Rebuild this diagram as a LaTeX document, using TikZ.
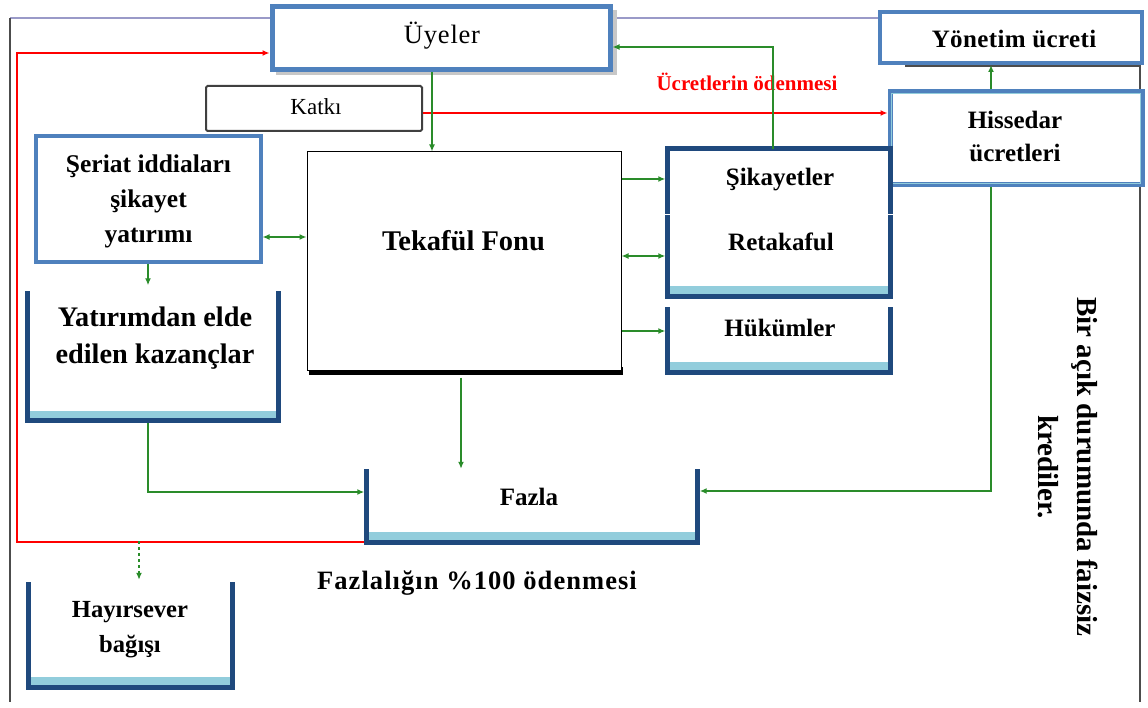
\documentclass[tikz,border=0pt]{standalone}
\usepackage{fontspec}
\setmainfont{Liberation Serif}
\newfontfamily\spA{Liberation Serif}[LetterSpace=3]
\newfontfamily\spB{Liberation Serif}[LetterSpace=4]
\newfontfamily\spC{Liberation Serif}[LetterSpace=1.5]
\usetikzlibrary{arrows.meta,calc}
\definecolor{bluebd}{HTML}{4F81BD}
\definecolor{darkbd}{HTML}{1F497D}
\definecolor{strip}{HTML}{92CDDC}
\definecolor{grn}{HTML}{2A8C2A}
\definecolor{frameblue}{HTML}{9A9AC8}
\newcommand{\fs}[2]{\fontsize{#1}{#2}\selectfont}
\newcommand{\mkU}[1]{%
  \fill[strip] ([yshift=2pt]#1.south west) rectangle ([yshift=10pt]#1.south east);
  \draw[ushp] (#1.north west) -- (#1.south west) -- (#1.south east) -- (#1.north east);}
\tikzset{
  area/.style={inner sep=0pt, minimum width=#1},
  bluebox/.style={draw=bluebd, line width=4.5pt, fill=white, inner sep=0pt},
  ushp/.style={draw=darkbd, line width=5pt, line cap=rect},
  lbl/.style={inner sep=0pt, align=center, text=black},
  garr/.style={draw=grn, line width=1.8pt, -{Latex[length=7pt,width=6pt]}},
  gdbl/.style={draw=grn, line width=1.8pt, {Latex[length=7pt,width=6pt]}-{Latex[length=7pt,width=6pt]}},
  rarr/.style={draw=red, line width=2.2pt, -{Latex[length=7pt,width=6pt]}},
}
\begin{document}
\begin{tikzpicture}[x=1pt,y=-1pt]
\useasboundingbox (0,0) rectangle (1148,708);
\fill[white] (0,0) rectangle (1148,708);
% frame
\draw[frameblue, line width=2pt] (10,18) -- (880,18);
\draw[black!70, line width=1.5pt] (10,18) -- (10,702);
\draw[black!70, line width=1.5pt] (905,66) -- (1140,66) -- (1140,702);

% helper coordinates
\coordinate (xu) at (432,0);
\coordinate (cs) at (773,47);
\coordinate (ys) at (0,179);
\coordinate (yr) at (0,256);
\coordinate (yh) at (0,331);
\coordinate (yq) at (0,237);
\coordinate (xy) at (148,0);
\coordinate (yf) at (0,492);
\coordinate (xt) at (461,0);
\coordinate (xh) at (991,0);
\coordinate (yg) at (0,491);
\coordinate (rl) at (17,53);
\coordinate (yk) at (0,113);
\coordinate (dd) at (139,541);

% boxes
\fill[black!22] (276,10) rectangle (617,75);
\node[bluebox, line width=5pt, minimum width=338pt, minimum height=63pt] (uye) at (441,38) {};
\node[lbl, anchor=base, font=\spA\fs{26.5}{26.5}] (uyet) at (442,44) {Üyeler};

\node[bluebox, line width=4pt, minimum width=262pt, minimum height=51pt] (yon) at (1011,37.5) {};
\node[lbl, anchor=base, font=\spC\bfseries\fs{25}{25}] (yont) at (1014,48) {Yönetim ücreti};

\node[bluebox, line width=5pt, minimum width=252pt, minimum height=93pt] (his) at (1016,138.5) {};
\draw[strip, line width=1.5pt] ($(his.north west)+(4,4)$) rectangle ($(his.south east)+(-4,-4)$);
\node[lbl, font=\bfseries\fs{25}{33}] (hist) at (1015,136) {Hissedar\\ücretleri};

\node[draw=black!75, line width=2pt, rounded corners=1.5pt, fill=white, minimum width=216pt, minimum height=45pt, inner sep=0pt] (kat) at (314,108.5) {};
\node[lbl, anchor=base, font=\fs{23}{23}] (katt) at (316,115) {Katkı};

\node[bluebox, line width=4pt, minimum width=225pt, minimum height=126pt] (ser) at (148,199) {};
\node[lbl, font=\bfseries\fs{25.5}{35}] (sert) at (148.5,201) {Şeriat iddiaları\\şikayet\\yatırımı};

\fill[black] (309,367) rectangle (623,375);
\node[draw=black, line width=1pt, fill=white, minimum width=314pt, minimum height=218pt, inner sep=0pt] (tek) at (464,261) {};
\node[lbl, anchor=base, font=\bfseries\fs{28.5}{28.5}] (tekt) at (463.5,251) {Tekafül Fonu};

% Sikayetler (open bottom)
\node[area=222pt, minimum height=62pt] (sik) at (779,180) {};
\draw[ushp] (sik.south west) -- (sik.north west) -- (sik.north east) -- (sik.south east);
\node[lbl, anchor=base, font=\bfseries\fs{25}{25}] (sikt) at (780,186) {Şikayetler};

\node[area=222pt, minimum height=78pt] (ret) at (779,257) {};
\mkU{ret}
\node[lbl, anchor=base, font=\bfseries\fs{25}{25}] (rett) at (781,251) {Retakaful};

\node[area=222pt, minimum height=62pt] (huk) at (779,341) {};
\mkU{huk}
\node[lbl, anchor=base, font=\bfseries\fs{25}{25}] (hukt) at (780,337) {Hükümler};

\node[area=250pt, minimum height=127pt] (yat) at (153,357) {};
\mkU{yat}
\node[lbl, font=\bfseries\fs{28.3}{37}] (yatt) at (155,338) {Yatırımdan elde\\edilen kazançlar};

\node[area=330pt, minimum height=70pt] (faz) at (532,507) {};
\mkU{faz}
\node[lbl, anchor=base, font=\bfseries\fs{25}{25}] (fazt) at (529,505) {Fazla};

\node[area=203pt, minimum height=102pt] (hay) at (130.5,636) {};
\mkU{hay}
\node[lbl, font=\bfseries\fs{24.6}{35}] (hayt) at (130,630) {Hayırsever\\bağışı};

% texts
\node[lbl, anchor=base, text=red, font=\bfseries\fs{21}{21}] (ucr) at (747,91) {Ücretlerin ödenmesi};
\node[lbl, anchor=base, font=\spB\bfseries\fs{26.5}{26.5}] (fzl) at (477,589) {Fazlalığın \%100 ödenmesi};
\node[lbl, font=\bfseries\fs{29}{39}, rotate=-90] (bir) at (1067.5,467) {Bir açık durumunda faizsiz\\krediler.};

% red connectors
\draw[rarr] ([xshift=-2.5pt]faz.south west) -| (rl) -- (uye.west |- rl);
\draw[rarr] (kat.east |- yk) -- (his.west |- yk);

% green connectors
\draw[garr] (uye.south -| xu) -- (tek.north -| xu);
\draw[garr] (sik.north -| cs) -- (cs) -- (uye.east |- cs);
\draw[garr] (tek.east |- ys) -- ([xshift=-2.5pt]sik.west |- ys);
\draw[gdbl] (tek.east |- yr) -- ([xshift=-2.5pt]ret.west |- yr);
\draw[garr] (tek.east |- yh) -- ([xshift=-2.5pt]huk.west |- yh);
\draw[gdbl] (ser.east |- yq) -- (tek.west |- yq);
\draw[garr, shorten >=8pt] (ser.south -| xy) -- (yat.north -| xy);
\draw[garr] ([yshift=-2.5pt]yat.south -| xy) |- ([xshift=-2.5pt]faz.west |- yf);
\draw[garr, shorten <=7pt, shorten >=3pt] (tek.south -| xt) -- (faz.north -| xt);
\draw[garr] (his.south -| xh) |- ([xshift=2.5pt]faz.east |- yg);
\draw[garr] (his.north -| xh) -- (yon.south -| xh);
\draw[garr, dashed, shorten >=5pt] (dd) -- (hay.north -| dd);
\end{tikzpicture}
\end{document}
